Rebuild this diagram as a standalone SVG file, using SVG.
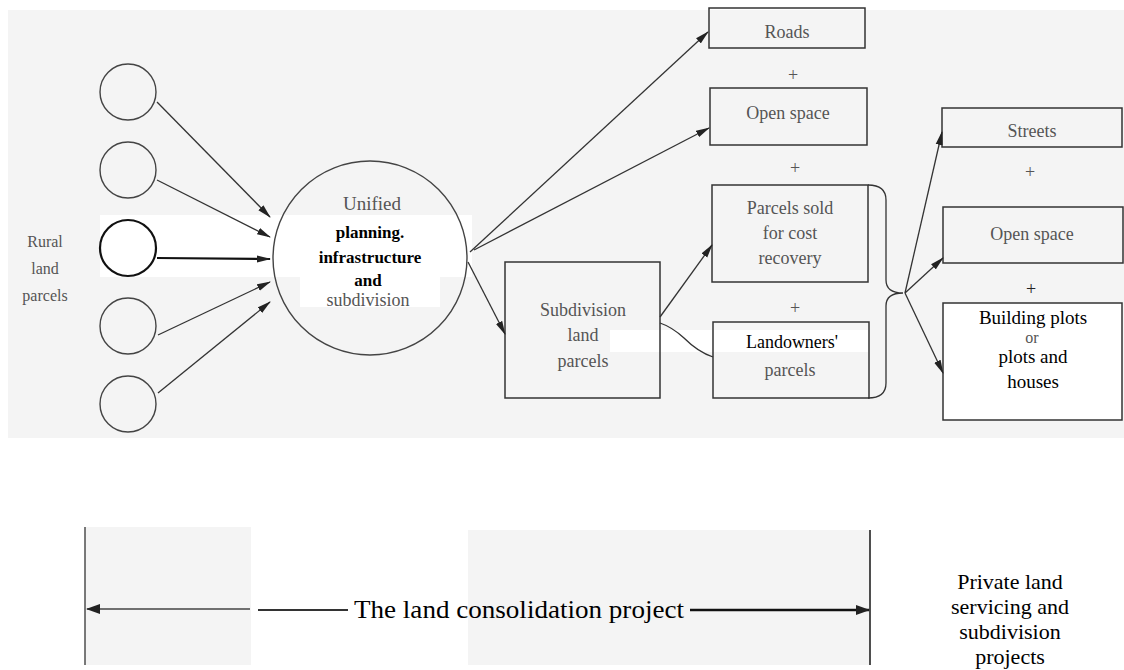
<svg xmlns="http://www.w3.org/2000/svg" width="1124" height="670" viewBox="0 0 1124 670">
<style>
.bg{fill:#f4f4f4}
.wp{fill:#ffffff}
.sc{fill:none;stroke:#444;stroke-width:1.4}
.bx{fill:none;stroke:#333;stroke-width:1.5}
.ln{fill:none;stroke:#333;stroke-width:1.3}
.lnb{fill:none;stroke:#111;stroke-width:2.2}
.tg{font-family:"Liberation Serif",serif;font-size:18px;fill:#555;text-anchor:middle}
.tb{font-family:"Liberation Serif",serif;font-size:17px;fill:#000;text-anchor:middle;font-weight:bold}
.tk{font-family:"Liberation Serif",serif;font-size:19px;fill:#000;text-anchor:middle}
.tl{font-family:"Liberation Serif",serif;font-size:22px;fill:#000;text-anchor:middle}
</style>
<defs>
<marker id="ah" markerWidth="14" markerHeight="8" refX="13" refY="4" orient="auto" markerUnits="userSpaceOnUse">
<path d="M0,0.5 L14,4 L0,7.5 z" fill="#222"/>
</marker>
<marker id="ahs" markerWidth="14" markerHeight="10" refX="13" refY="5" orient="auto-start-reverse" markerUnits="userSpaceOnUse">
<path d="M0,0 L14,5 L0,10 z" fill="#222"/>
</marker>
</defs>
<rect width="1124" height="670" fill="#ffffff"/>
<g id="background">
<rect class="bg" x="8" y="10" width="1116" height="428"/>
<rect class="wp" x="100" y="215" width="372" height="62"/>
<rect class="wp" x="300" y="277" width="140" height="30"/>
<rect class="wp" x="610" y="330" width="258" height="22"/>
<rect class="bg" x="85" y="527" width="166" height="138"/>
<rect class="bg" x="468" y="530" width="402" height="135"/>
</g>
<g id="rural-label">
<text class="tg" x="45" y="247" style="font-size:16px">Rural</text>
<text class="tg" x="45" y="274" style="font-size:16px">land</text>
<text class="tg" x="45" y="301" style="font-size:16px">parcels</text>
</g>
<g id="parcel1"><circle class="sc" cx="128" cy="92" r="28"/></g>
<g id="parcel2"><circle class="sc" cx="128" cy="170" r="28"/></g>
<g id="parcel3"><circle cx="128" cy="248" r="28" fill="none" stroke="#111" stroke-width="2.2"/></g>
<g id="parcel4"><circle class="sc" cx="128" cy="326" r="28"/></g>
<g id="parcel5"><circle class="sc" cx="128" cy="404" r="28"/></g>
<g id="unified">
<circle class="sc" cx="370" cy="258" r="97"/>
<text class="tg" x="372" y="210" style="font-size:19px">Unified</text>
<text class="tb" x="370" y="238">planning.</text>
<text class="tb" x="370" y="263">infrastructure</text>
<text class="tb" x="368" y="286">and</text>
<text class="tg" x="368" y="306">subdivision</text>
</g>
<g id="roads"><rect class="bx" x="709" y="8" width="156" height="40"/><text class="tg" x="787" y="38">Roads</text></g>
<g id="plus1"><text class="tg" x="793" y="81">+</text></g>
<g id="openspace1"><rect class="bx" x="710" y="88" width="157" height="57"/><text class="tg" x="788" y="119">Open space</text></g>
<g id="plus2"><text class="tg" x="795" y="174">+</text></g>
<g id="parcelssold"><rect class="bx" x="712" y="185" width="156" height="97"/>
<text class="tg" x="790" y="214">Parcels sold</text>
<text class="tg" x="790" y="239">for cost</text>
<text class="tg" x="790" y="264">recovery</text></g>
<g id="plus3"><text class="tg" x="795" y="314">+</text></g>
<g id="landowners"><rect class="bx" x="713" y="322" width="156" height="76"/>
<text class="tk" x="792" y="348" style="font-size:18px">Landowners'</text>
<text class="tg" x="790" y="376">parcels</text></g>
<g id="subdivision"><rect class="bx" x="505" y="262" width="155" height="136"/>
<rect class="wp" x="610" y="330" width="49" height="22"/>
<text class="tg" x="583" y="316">Subdivision</text>
<text class="tg" x="583" y="341">land</text>
<text class="tg" x="583" y="367">parcels</text></g>
<g id="streets"><rect class="bx" x="942" y="108" width="180" height="39"/><text class="tg" x="1032" y="137">Streets</text></g>
<g id="plus4"><text class="tg" x="1030" y="178">+</text></g>
<g id="openspace2"><rect class="bx" x="943" y="207" width="180" height="56"/><text class="tg" x="1032" y="240">Open space</text></g>
<g id="plus5"><text class="tg" x="1031" y="295" style="fill:#222">+</text></g>
<g id="buildingplots"><rect x="943" y="303" width="179" height="117" fill="#fff" stroke="#333" stroke-width="1.5"/>
<text class="tk" x="1033" y="324">Building plots</text>
<text class="tg" x="1032" y="343" style="font-size:16px">or</text>
<text class="tk" x="1033" y="363">plots and</text>
<text class="tk" x="1033" y="388">houses</text></g>
<g id="connectors">
<line class="ln" x1="157" y1="102" x2="270" y2="217" marker-end="url(#ah)"/>
<line class="ln" x1="157" y1="180" x2="270" y2="237" marker-end="url(#ah)"/>
<line class="lnb" x1="157" y1="258" x2="270" y2="259" marker-end="url(#ah)"/>
<line class="ln" x1="158" y1="335" x2="270" y2="282" marker-end="url(#ah)"/>
<line class="ln" x1="158" y1="393" x2="270" y2="302" marker-end="url(#ah)"/>
<line class="ln" x1="470" y1="252" x2="708" y2="32" marker-end="url(#ah)"/>
<line class="ln" x1="474" y1="250" x2="709" y2="128" marker-end="url(#ah)"/>
<line class="ln" x1="468" y1="262" x2="505" y2="334" marker-end="url(#ah)"/>
<line class="ln" x1="660" y1="317" x2="712" y2="245" marker-end="url(#ah)"/>
<path class="ln" d="M660,323 Q672,327 684,338 Q698,352 713,357"/>
<path class="ln" d="M868,185 Q886,185 886,200 L886,280 Q886,293 903,293 Q886,293 886,306 L886,383 Q886,398 868,398"/>
<line class="ln" x1="905" y1="293" x2="942" y2="132" marker-end="url(#ah)"/>
<line class="ln" x1="905" y1="293" x2="943" y2="258" marker-end="url(#ah)"/>
<line class="ln" x1="905" y1="293" x2="943" y2="373" marker-end="url(#ah)"/>
</g>
<g id="project-span">
<line x1="85" y1="527" x2="85" y2="665" stroke="#333" stroke-width="1.3"/>
<line x1="870" y1="530" x2="870" y2="665" stroke="#222" stroke-width="1.6"/>
<line x1="87" y1="609" x2="250" y2="609" stroke="#444" stroke-width="1.6" marker-start="url(#ahs)"/>
<line x1="258" y1="610" x2="348" y2="610" stroke="#333" stroke-width="1.8"/>
<line x1="690" y1="610" x2="869" y2="610" stroke="#111" stroke-width="2.6" marker-end="url(#ahs)"/>
<text class="tl" x="519" y="618" style="font-size:25px" textLength="330" lengthAdjust="spacingAndGlyphs">The land consolidation project</text>
</g>
<g id="private">
<text class="tl" x="1010" y="589">Private land</text>
<text class="tl" x="1010" y="614">servicing and</text>
<text class="tl" x="1010" y="639">subdivision</text>
<text class="tl" x="1010" y="664">projects</text>
</g>
</svg>
